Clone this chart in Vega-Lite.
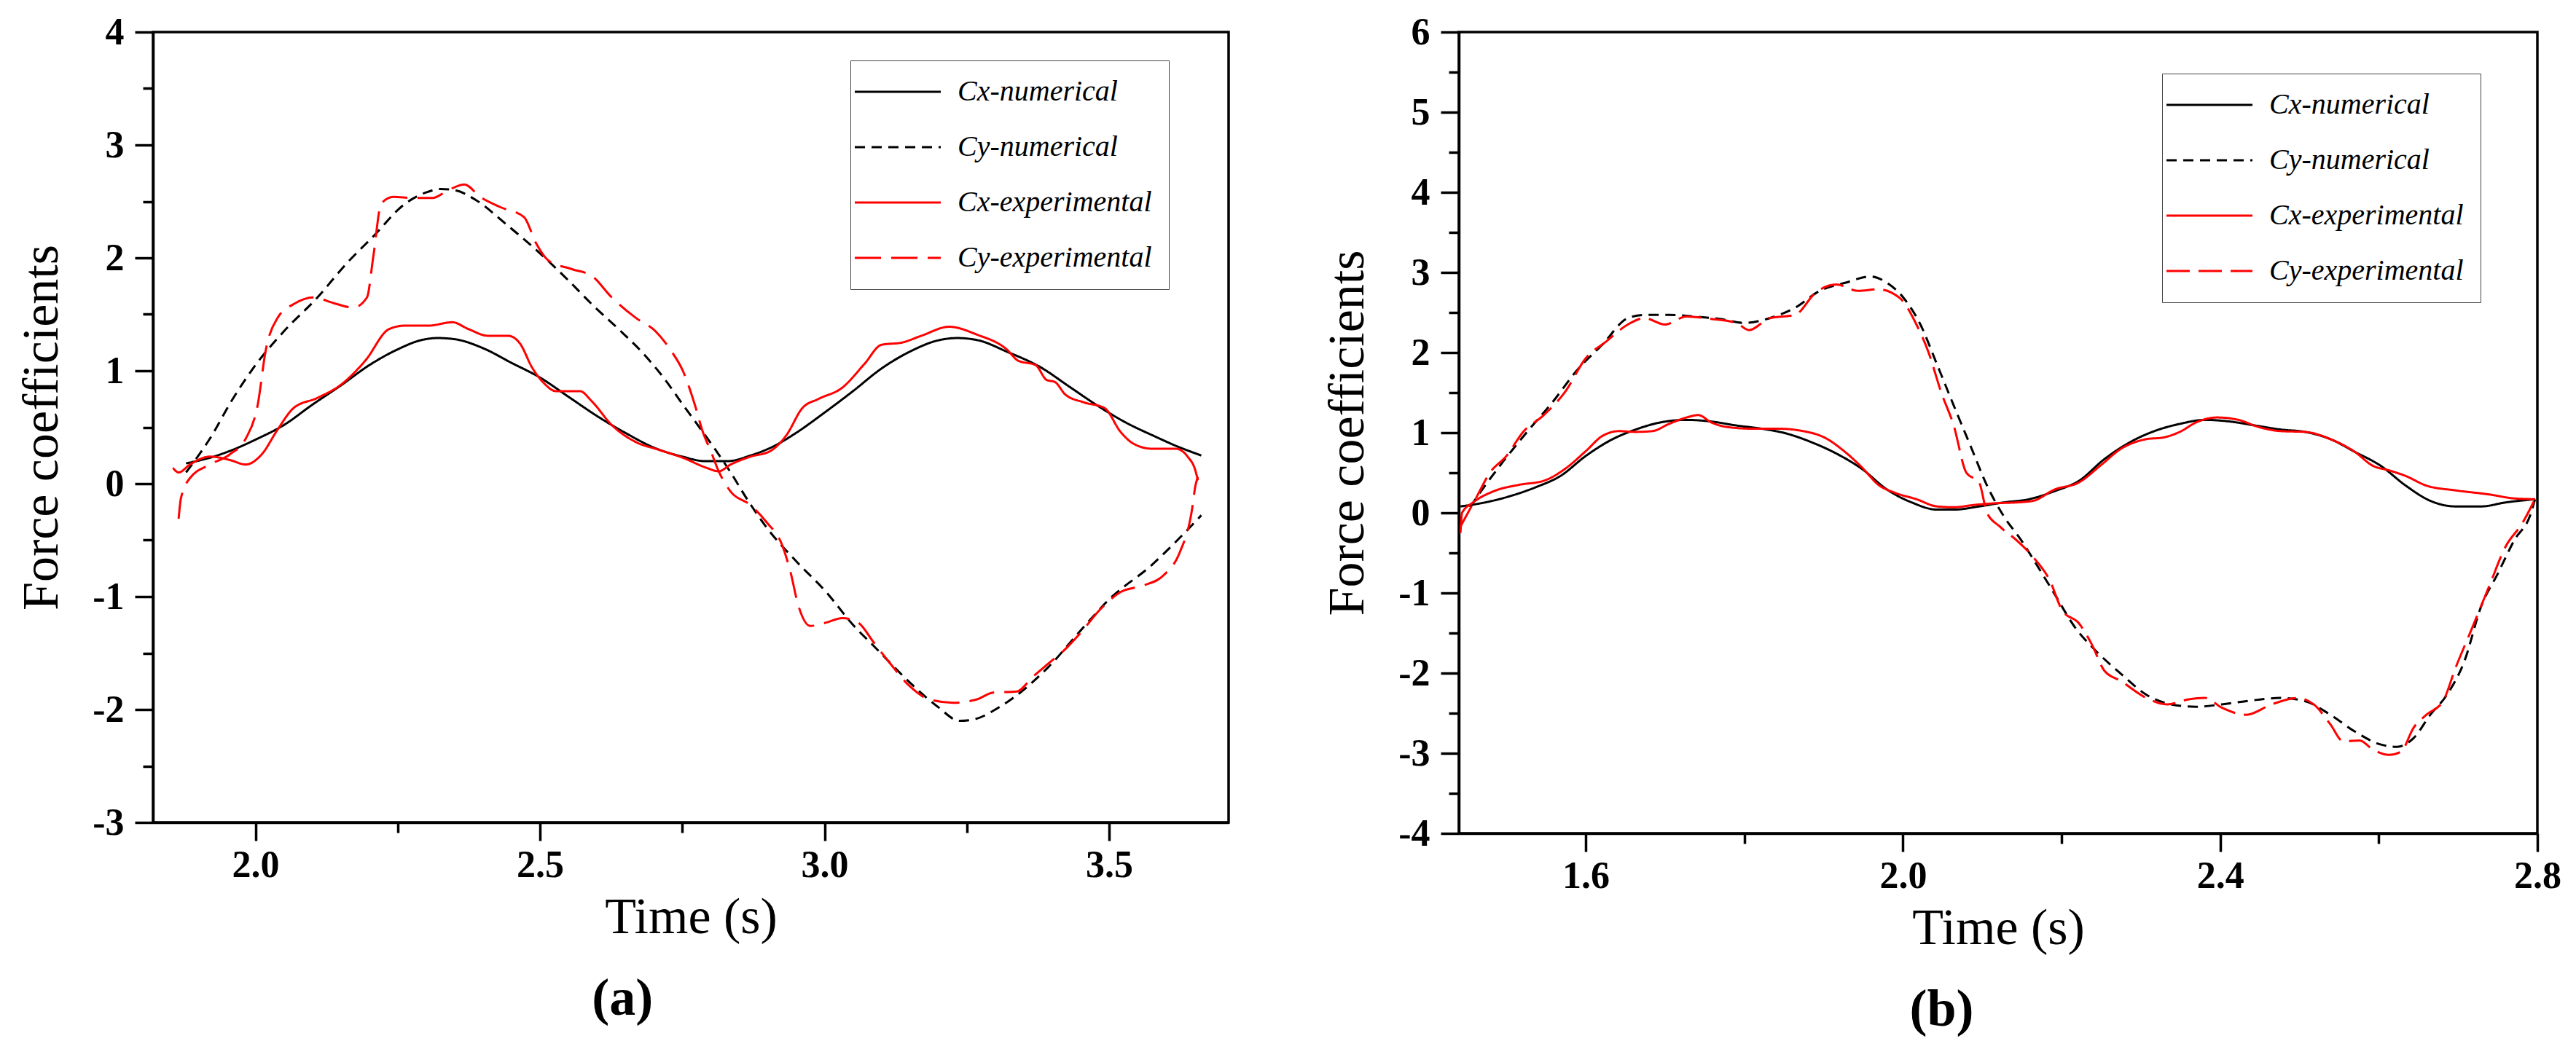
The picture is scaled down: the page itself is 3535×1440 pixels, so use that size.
{
  "$schema": "https://vega.github.io/schema/vega-lite/v6.json",
  "description": "Force coefficients, numerical vs experimental",
  "background": "white",
  "padding": {"left": 20, "top": 16, "right": 22, "bottom": 10},
  "spacing": 124,

  "config": {
    "view": {"stroke": "black", "strokeWidth": 3.5},
    "line": {"interpolate": "monotone"},
    "axis": {
      "grid": false,
      "labelFont": "Liberation Serif", "labelFontSize": 52, "labelFontWeight": "bold", "labelColor": "black",
      "titleFont": "Liberation Serif", "titleFontSize": 70, "titleFontWeight": "normal", "titleColor": "black",
      "domainColor": "black", "domainWidth": 3.5,
      "tickColor": "black", "tickWidth": 3.5, "tickSize": 25,
      "labelFlush": false, "labelOverlap": false
    },
    "axisX": {"labelPadding": 8, "titlePadding": 12},
    "axisY": {"labelPadding": 15, "titlePadding": 33},
    "legend": {
      "title": null,
      "labelFont": "Liberation Serif", "labelFontSize": 40, "labelFontStyle": "italic", "labelColor": "black",
      "labelLimit": 0,
      "strokeColor": "#444", "padding": 23,
      "symbolType": "M-4,0H4", "symbolSize": 870, "symbolOffset": 22, "labelOffset": 62,
      "rowPadding": 36
    },
    "title": {
      "font": "Liberation Serif", "fontSize": 72, "fontWeight": "bold", "color": "black",
      "orient": "bottom", "anchor": "middle", "offset": 42, "frame": "bounds"
    }
  },

  "resolve": {
    "scale": {"color": "independent", "strokeDash": "independent", "strokeWidth": "independent"},
    "legend": {"color": "independent", "strokeDash": "independent", "strokeWidth": "independent"}
  },

  "datasets": {
    "a": [
      {"series": "Cx-numerical", "t": 1.878, "c": 0.18},
      {"series": "Cx-numerical", "t": 1.92, "c": 0.23},
      {"series": "Cx-numerical", "t": 1.96, "c": 0.30},
      {"series": "Cx-numerical", "t": 2.00, "c": 0.39},
      {"series": "Cx-numerical", "t": 2.05, "c": 0.52},
      {"series": "Cx-numerical", "t": 2.10, "c": 0.70},
      {"series": "Cx-numerical", "t": 2.15, "c": 0.87},
      {"series": "Cx-numerical", "t": 2.20, "c": 1.05},
      {"series": "Cx-numerical", "t": 2.25, "c": 1.19},
      {"series": "Cx-numerical", "t": 2.29, "c": 1.27},
      {"series": "Cx-numerical", "t": 2.32, "c": 1.29},
      {"series": "Cx-numerical", "t": 2.35, "c": 1.28},
      {"series": "Cx-numerical", "t": 2.40, "c": 1.20},
      {"series": "Cx-numerical", "t": 2.45, "c": 1.07},
      {"series": "Cx-numerical", "t": 2.50, "c": 0.94},
      {"series": "Cx-numerical", "t": 2.55, "c": 0.77},
      {"series": "Cx-numerical", "t": 2.60, "c": 0.60},
      {"series": "Cx-numerical", "t": 2.65, "c": 0.45},
      {"series": "Cx-numerical", "t": 2.70, "c": 0.32},
      {"series": "Cx-numerical", "t": 2.75, "c": 0.24},
      {"series": "Cx-numerical", "t": 2.79, "c": 0.20},
      {"series": "Cx-numerical", "t": 2.83, "c": 0.20},
      {"series": "Cx-numerical", "t": 2.87, "c": 0.25},
      {"series": "Cx-numerical", "t": 2.91, "c": 0.33},
      {"series": "Cx-numerical", "t": 2.95, "c": 0.45},
      {"series": "Cx-numerical", "t": 3.00, "c": 0.63},
      {"series": "Cx-numerical", "t": 3.05, "c": 0.82},
      {"series": "Cx-numerical", "t": 3.10, "c": 1.02},
      {"series": "Cx-numerical", "t": 3.15, "c": 1.17},
      {"series": "Cx-numerical", "t": 3.20, "c": 1.27},
      {"series": "Cx-numerical", "t": 3.233, "c": 1.29},
      {"series": "Cx-numerical", "t": 3.27, "c": 1.27},
      {"series": "Cx-numerical", "t": 3.32, "c": 1.17},
      {"series": "Cx-numerical", "t": 3.38, "c": 1.03},
      {"series": "Cx-numerical", "t": 3.43, "c": 0.86},
      {"series": "Cx-numerical", "t": 3.48, "c": 0.69},
      {"series": "Cx-numerical", "t": 3.53, "c": 0.54},
      {"series": "Cx-numerical", "t": 3.58, "c": 0.42},
      {"series": "Cx-numerical", "t": 3.62, "c": 0.33},
      {"series": "Cx-numerical", "t": 3.662, "c": 0.25},

      {"series": "Cy-numerical", "t": 1.878, "c": 0.10},
      {"series": "Cy-numerical", "t": 1.92, "c": 0.40},
      {"series": "Cy-numerical", "t": 1.96, "c": 0.75},
      {"series": "Cy-numerical", "t": 2.00, "c": 1.05},
      {"series": "Cy-numerical", "t": 2.05, "c": 1.35},
      {"series": "Cy-numerical", "t": 2.109, "c": 1.65},
      {"series": "Cy-numerical", "t": 2.16, "c": 1.95},
      {"series": "Cy-numerical", "t": 2.207, "c": 2.19},
      {"series": "Cy-numerical", "t": 2.263, "c": 2.48},
      {"series": "Cy-numerical", "t": 2.30, "c": 2.58},
      {"series": "Cy-numerical", "t": 2.325, "c": 2.61},
      {"series": "Cy-numerical", "t": 2.35, "c": 2.60},
      {"series": "Cy-numerical", "t": 2.388, "c": 2.51},
      {"series": "Cy-numerical", "t": 2.44, "c": 2.30},
      {"series": "Cy-numerical", "t": 2.50, "c": 2.04},
      {"series": "Cy-numerical", "t": 2.55, "c": 1.80},
      {"series": "Cy-numerical", "t": 2.591, "c": 1.59},
      {"series": "Cy-numerical", "t": 2.64, "c": 1.36},
      {"series": "Cy-numerical", "t": 2.682, "c": 1.15},
      {"series": "Cy-numerical", "t": 2.72, "c": 0.92},
      {"series": "Cy-numerical", "t": 2.751, "c": 0.70},
      {"series": "Cy-numerical", "t": 2.78, "c": 0.50},
      {"series": "Cy-numerical", "t": 2.807, "c": 0.31},
      {"series": "Cy-numerical", "t": 2.835, "c": 0.10},
      {"series": "Cy-numerical", "t": 2.863, "c": -0.13},
      {"series": "Cy-numerical", "t": 2.90, "c": -0.40},
      {"series": "Cy-numerical", "t": 2.947, "c": -0.67},
      {"series": "Cy-numerical", "t": 3.003, "c": -0.96},
      {"series": "Cy-numerical", "t": 3.05, "c": -1.25},
      {"series": "Cy-numerical", "t": 3.087, "c": -1.44},
      {"series": "Cy-numerical", "t": 3.156, "c": -1.79},
      {"series": "Cy-numerical", "t": 3.20, "c": -1.98},
      {"series": "Cy-numerical", "t": 3.237, "c": -2.10},
      {"series": "Cy-numerical", "t": 3.26, "c": -2.09},
      {"series": "Cy-numerical", "t": 3.31, "c": -1.97},
      {"series": "Cy-numerical", "t": 3.394, "c": -1.62},
      {"series": "Cy-numerical", "t": 3.45, "c": -1.30},
      {"series": "Cy-numerical", "t": 3.501, "c": -1.02},
      {"series": "Cy-numerical", "t": 3.575, "c": -0.72},
      {"series": "Cy-numerical", "t": 3.62, "c": -0.50},
      {"series": "Cy-numerical", "t": 3.662, "c": -0.28},

      {"series": "Cx-experimental", "t": 1.855, "c": 0.14},
      {"series": "Cx-experimental", "t": 1.865, "c": 0.10},
      {"series": "Cx-experimental", "t": 1.885, "c": 0.17},
      {"series": "Cx-experimental", "t": 1.920, "c": 0.24},
      {"series": "Cx-experimental", "t": 1.955, "c": 0.21},
      {"series": "Cx-experimental", "t": 1.983, "c": 0.17},
      {"series": "Cx-experimental", "t": 2.011, "c": 0.26},
      {"series": "Cx-experimental", "t": 2.039, "c": 0.48},
      {"series": "Cx-experimental", "t": 2.067, "c": 0.67},
      {"series": "Cx-experimental", "t": 2.109, "c": 0.76},
      {"series": "Cx-experimental", "t": 2.151, "c": 0.88},
      {"series": "Cx-experimental", "t": 2.193, "c": 1.09},
      {"series": "Cx-experimental", "t": 2.235, "c": 1.37},
      {"series": "Cx-experimental", "t": 2.263, "c": 1.40},
      {"series": "Cx-experimental", "t": 2.304, "c": 1.40},
      {"series": "Cx-experimental", "t": 2.346, "c": 1.43},
      {"series": "Cx-experimental", "t": 2.374, "c": 1.37},
      {"series": "Cx-experimental", "t": 2.409, "c": 1.31},
      {"series": "Cx-experimental", "t": 2.444, "c": 1.31},
      {"series": "Cx-experimental", "t": 2.465, "c": 1.24},
      {"series": "Cx-experimental", "t": 2.486, "c": 1.03},
      {"series": "Cx-experimental", "t": 2.507, "c": 0.89},
      {"series": "Cx-experimental", "t": 2.528, "c": 0.82},
      {"series": "Cx-experimental", "t": 2.570, "c": 0.82},
      {"series": "Cx-experimental", "t": 2.591, "c": 0.73},
      {"series": "Cx-experimental", "t": 2.626, "c": 0.52},
      {"series": "Cx-experimental", "t": 2.668, "c": 0.37},
      {"series": "Cx-experimental", "t": 2.709, "c": 0.30},
      {"series": "Cx-experimental", "t": 2.751, "c": 0.23},
      {"series": "Cx-experimental", "t": 2.793, "c": 0.14},
      {"series": "Cx-experimental", "t": 2.814, "c": 0.11},
      {"series": "Cx-experimental", "t": 2.835, "c": 0.17},
      {"series": "Cx-experimental", "t": 2.870, "c": 0.24},
      {"series": "Cx-experimental", "t": 2.905, "c": 0.29},
      {"series": "Cx-experimental", "t": 2.933, "c": 0.43},
      {"series": "Cx-experimental", "t": 2.961, "c": 0.67},
      {"series": "Cx-experimental", "t": 2.989, "c": 0.75},
      {"series": "Cx-experimental", "t": 3.031, "c": 0.85},
      {"series": "Cx-experimental", "t": 3.070, "c": 1.06},
      {"series": "Cx-experimental", "t": 3.100, "c": 1.23},
      {"series": "Cx-experimental", "t": 3.136, "c": 1.25},
      {"series": "Cx-experimental", "t": 3.170, "c": 1.31},
      {"series": "Cx-experimental", "t": 3.219, "c": 1.39},
      {"series": "Cx-experimental", "t": 3.268, "c": 1.32},
      {"series": "Cx-experimental", "t": 3.320, "c": 1.19},
      {"series": "Cx-experimental", "t": 3.340, "c": 1.09},
      {"series": "Cx-experimental", "t": 3.371, "c": 1.05},
      {"series": "Cx-experimental", "t": 3.390, "c": 0.92},
      {"series": "Cx-experimental", "t": 3.405, "c": 0.90},
      {"series": "Cx-experimental", "t": 3.423, "c": 0.79},
      {"series": "Cx-experimental", "t": 3.456, "c": 0.72},
      {"series": "Cx-experimental", "t": 3.492, "c": 0.67},
      {"series": "Cx-experimental", "t": 3.520, "c": 0.46},
      {"series": "Cx-experimental", "t": 3.541, "c": 0.36},
      {"series": "Cx-experimental", "t": 3.575, "c": 0.31},
      {"series": "Cx-experimental", "t": 3.617, "c": 0.31},
      {"series": "Cx-experimental", "t": 3.638, "c": 0.24},
      {"series": "Cx-experimental", "t": 3.652, "c": 0.11},
      {"series": "Cx-experimental", "t": 3.656, "c": 0.03},

      {"series": "Cy-experimental", "t": 1.865, "c": -0.31},
      {"series": "Cy-experimental", "t": 1.869, "c": -0.13},
      {"series": "Cy-experimental", "t": 1.885, "c": 0.05},
      {"series": "Cy-experimental", "t": 1.920, "c": 0.17},
      {"series": "Cy-experimental", "t": 1.955, "c": 0.26},
      {"series": "Cy-experimental", "t": 1.983, "c": 0.40},
      {"series": "Cy-experimental", "t": 2.004, "c": 0.70},
      {"series": "Cy-experimental", "t": 2.018, "c": 1.18},
      {"series": "Cy-experimental", "t": 2.039, "c": 1.47},
      {"series": "Cy-experimental", "t": 2.067, "c": 1.59},
      {"series": "Cy-experimental", "t": 2.102, "c": 1.65},
      {"series": "Cy-experimental", "t": 2.137, "c": 1.60},
      {"series": "Cy-experimental", "t": 2.172, "c": 1.56},
      {"series": "Cy-experimental", "t": 2.196, "c": 1.65},
      {"series": "Cy-experimental", "t": 2.207, "c": 2.01},
      {"series": "Cy-experimental", "t": 2.221, "c": 2.48},
      {"series": "Cy-experimental", "t": 2.242, "c": 2.54},
      {"series": "Cy-experimental", "t": 2.277, "c": 2.53},
      {"series": "Cy-experimental", "t": 2.311, "c": 2.53},
      {"series": "Cy-experimental", "t": 2.339, "c": 2.60},
      {"series": "Cy-experimental", "t": 2.367, "c": 2.65},
      {"series": "Cy-experimental", "t": 2.395, "c": 2.54},
      {"series": "Cy-experimental", "t": 2.430, "c": 2.45},
      {"series": "Cy-experimental", "t": 2.472, "c": 2.36},
      {"series": "Cy-experimental", "t": 2.493, "c": 2.13},
      {"series": "Cy-experimental", "t": 2.514, "c": 1.98},
      {"series": "Cy-experimental", "t": 2.556, "c": 1.90},
      {"series": "Cy-experimental", "t": 2.591, "c": 1.84},
      {"series": "Cy-experimental", "t": 2.626, "c": 1.65},
      {"series": "Cy-experimental", "t": 2.668, "c": 1.47},
      {"series": "Cy-experimental", "t": 2.703, "c": 1.35},
      {"series": "Cy-experimental", "t": 2.730, "c": 1.18},
      {"series": "Cy-experimental", "t": 2.751, "c": 1.00},
      {"series": "Cy-experimental", "t": 2.772, "c": 0.70},
      {"series": "Cy-experimental", "t": 2.786, "c": 0.46},
      {"series": "Cy-experimental", "t": 2.800, "c": 0.29},
      {"series": "Cy-experimental", "t": 2.814, "c": 0.11},
      {"series": "Cy-experimental", "t": 2.835, "c": -0.07},
      {"series": "Cy-experimental", "t": 2.870, "c": -0.19},
      {"series": "Cy-experimental", "t": 2.898, "c": -0.34},
      {"series": "Cy-experimental", "t": 2.926, "c": -0.55},
      {"series": "Cy-experimental", "t": 2.940, "c": -0.78},
      {"series": "Cy-experimental", "t": 2.954, "c": -1.08},
      {"series": "Cy-experimental", "t": 2.975, "c": -1.26},
      {"series": "Cy-experimental", "t": 3.003, "c": -1.23},
      {"series": "Cy-experimental", "t": 3.031, "c": -1.19},
      {"series": "Cy-experimental", "t": 3.059, "c": -1.23},
      {"series": "Cy-experimental", "t": 3.087, "c": -1.41},
      {"series": "Cy-experimental", "t": 3.115, "c": -1.59},
      {"series": "Cy-experimental", "t": 3.149, "c": -1.79},
      {"series": "Cy-experimental", "t": 3.184, "c": -1.91},
      {"series": "Cy-experimental", "t": 3.226, "c": -1.94},
      {"series": "Cy-experimental", "t": 3.268, "c": -1.91},
      {"series": "Cy-experimental", "t": 3.296, "c": -1.85},
      {"series": "Cy-experimental", "t": 3.338, "c": -1.84},
      {"series": "Cy-experimental", "t": 3.366, "c": -1.71},
      {"series": "Cy-experimental", "t": 3.394, "c": -1.59},
      {"series": "Cy-experimental", "t": 3.422, "c": -1.47},
      {"series": "Cy-experimental", "t": 3.450, "c": -1.32},
      {"series": "Cy-experimental", "t": 3.485, "c": -1.11},
      {"series": "Cy-experimental", "t": 3.520, "c": -0.96},
      {"series": "Cy-experimental", "t": 3.561, "c": -0.90},
      {"series": "Cy-experimental", "t": 3.596, "c": -0.81},
      {"series": "Cy-experimental", "t": 3.624, "c": -0.61},
      {"series": "Cy-experimental", "t": 3.645, "c": -0.25},
      {"series": "Cy-experimental", "t": 3.652, "c": -0.01},
      {"series": "Cy-experimental", "t": 3.656, "c": 0.06}
    ],
    "b": [
      {"series": "Cx-numerical", "t": 1.442, "c": 0.08},
      {"series": "Cx-numerical", "t": 1.473, "c": 0.13},
      {"series": "Cx-numerical", "t": 1.505, "c": 0.21},
      {"series": "Cx-numerical", "t": 1.537, "c": 0.32},
      {"series": "Cx-numerical", "t": 1.568, "c": 0.46},
      {"series": "Cx-numerical", "t": 1.600, "c": 0.71},
      {"series": "Cx-numerical", "t": 1.632, "c": 0.91},
      {"series": "Cx-numerical", "t": 1.663, "c": 1.04},
      {"series": "Cx-numerical", "t": 1.695, "c": 1.13},
      {"series": "Cx-numerical", "t": 1.727, "c": 1.16},
      {"series": "Cx-numerical", "t": 1.758, "c": 1.14},
      {"series": "Cx-numerical", "t": 1.790, "c": 1.09},
      {"series": "Cx-numerical", "t": 1.822, "c": 1.05},
      {"series": "Cx-numerical", "t": 1.853, "c": 0.99},
      {"series": "Cx-numerical", "t": 1.885, "c": 0.88},
      {"series": "Cx-numerical", "t": 1.916, "c": 0.74},
      {"series": "Cx-numerical", "t": 1.948, "c": 0.55},
      {"series": "Cx-numerical", "t": 1.980, "c": 0.29},
      {"series": "Cx-numerical", "t": 2.011, "c": 0.13},
      {"series": "Cx-numerical", "t": 2.043, "c": 0.04},
      {"series": "Cx-numerical", "t": 2.064, "c": 0.04},
      {"series": "Cx-numerical", "t": 2.096, "c": 0.08},
      {"series": "Cx-numerical", "t": 2.127, "c": 0.13},
      {"series": "Cx-numerical", "t": 2.159, "c": 0.17},
      {"series": "Cx-numerical", "t": 2.191, "c": 0.27},
      {"series": "Cx-numerical", "t": 2.222, "c": 0.40},
      {"series": "Cx-numerical", "t": 2.254, "c": 0.67},
      {"series": "Cx-numerical", "t": 2.286, "c": 0.88},
      {"series": "Cx-numerical", "t": 2.317, "c": 1.02},
      {"series": "Cx-numerical", "t": 2.349, "c": 1.11},
      {"series": "Cx-numerical", "t": 2.381, "c": 1.16},
      {"series": "Cx-numerical", "t": 2.412, "c": 1.14},
      {"series": "Cx-numerical", "t": 2.444, "c": 1.09},
      {"series": "Cx-numerical", "t": 2.476, "c": 1.04},
      {"series": "Cx-numerical", "t": 2.507, "c": 1.01},
      {"series": "Cx-numerical", "t": 2.539, "c": 0.92},
      {"series": "Cx-numerical", "t": 2.570, "c": 0.76},
      {"series": "Cx-numerical", "t": 2.602, "c": 0.59},
      {"series": "Cx-numerical", "t": 2.634, "c": 0.34},
      {"series": "Cx-numerical", "t": 2.665, "c": 0.15},
      {"series": "Cx-numerical", "t": 2.697, "c": 0.08},
      {"series": "Cx-numerical", "t": 2.729, "c": 0.08},
      {"series": "Cx-numerical", "t": 2.760, "c": 0.13},
      {"series": "Cx-numerical", "t": 2.797, "c": 0.17},

      {"series": "Cy-numerical", "t": 1.454, "c": 0.07},
      {"series": "Cy-numerical", "t": 1.473, "c": 0.34},
      {"series": "Cy-numerical", "t": 1.495, "c": 0.63},
      {"series": "Cy-numerical", "t": 1.526, "c": 1.01},
      {"series": "Cy-numerical", "t": 1.558, "c": 1.38},
      {"series": "Cy-numerical", "t": 1.589, "c": 1.78},
      {"series": "Cy-numerical", "t": 1.621, "c": 2.10},
      {"series": "Cy-numerical", "t": 1.653, "c": 2.43},
      {"series": "Cy-numerical", "t": 1.674, "c": 2.47},
      {"series": "Cy-numerical", "t": 1.705, "c": 2.47},
      {"series": "Cy-numerical", "t": 1.737, "c": 2.45},
      {"series": "Cy-numerical", "t": 1.769, "c": 2.42},
      {"series": "Cy-numerical", "t": 1.800, "c": 2.37},
      {"series": "Cy-numerical", "t": 1.832, "c": 2.43},
      {"series": "Cy-numerical", "t": 1.864, "c": 2.56},
      {"series": "Cy-numerical", "t": 1.895, "c": 2.77},
      {"series": "Cy-numerical", "t": 1.927, "c": 2.87},
      {"series": "Cy-numerical", "t": 1.959, "c": 2.95},
      {"series": "Cy-numerical", "t": 1.980, "c": 2.87},
      {"series": "Cy-numerical", "t": 2.001, "c": 2.68},
      {"series": "Cy-numerical", "t": 2.022, "c": 2.35},
      {"series": "Cy-numerical", "t": 2.043, "c": 1.85},
      {"series": "Cy-numerical", "t": 2.064, "c": 1.34},
      {"series": "Cy-numerical", "t": 2.085, "c": 0.84},
      {"series": "Cy-numerical", "t": 2.106, "c": 0.34},
      {"series": "Cy-numerical", "t": 2.127, "c": -0.04},
      {"series": "Cy-numerical", "t": 2.149, "c": -0.34},
      {"series": "Cy-numerical", "t": 2.170, "c": -0.67},
      {"series": "Cy-numerical", "t": 2.191, "c": -1.01},
      {"series": "Cy-numerical", "t": 2.217, "c": -1.43},
      {"series": "Cy-numerical", "t": 2.243, "c": -1.72},
      {"series": "Cy-numerical", "t": 2.275, "c": -2.01},
      {"series": "Cy-numerical", "t": 2.307, "c": -2.27},
      {"series": "Cy-numerical", "t": 2.338, "c": -2.39},
      {"series": "Cy-numerical", "t": 2.370, "c": -2.42},
      {"series": "Cy-numerical", "t": 2.402, "c": -2.39},
      {"series": "Cy-numerical", "t": 2.433, "c": -2.35},
      {"series": "Cy-numerical", "t": 2.476, "c": -2.31},
      {"series": "Cy-numerical", "t": 2.507, "c": -2.35},
      {"series": "Cy-numerical", "t": 2.539, "c": -2.52},
      {"series": "Cy-numerical", "t": 2.570, "c": -2.73},
      {"series": "Cy-numerical", "t": 2.602, "c": -2.89},
      {"series": "Cy-numerical", "t": 2.623, "c": -2.92},
      {"series": "Cy-numerical", "t": 2.644, "c": -2.81},
      {"series": "Cy-numerical", "t": 2.665, "c": -2.52},
      {"series": "Cy-numerical", "t": 2.686, "c": -2.27},
      {"series": "Cy-numerical", "t": 2.708, "c": -1.85},
      {"series": "Cy-numerical", "t": 2.729, "c": -1.17},
      {"series": "Cy-numerical", "t": 2.750, "c": -0.76},
      {"series": "Cy-numerical", "t": 2.771, "c": -0.34},
      {"series": "Cy-numerical", "t": 2.792, "c": 0.00},
      {"series": "Cy-numerical", "t": 2.797, "c": 0.17},

      {"series": "Cx-experimental", "t": 1.442, "c": -0.25},
      {"series": "Cx-experimental", "t": 1.444, "c": 0.00},
      {"series": "Cx-experimental", "t": 1.458, "c": 0.13},
      {"series": "Cx-experimental", "t": 1.484, "c": 0.27},
      {"series": "Cx-experimental", "t": 1.516, "c": 0.35},
      {"series": "Cx-experimental", "t": 1.547, "c": 0.40},
      {"series": "Cx-experimental", "t": 1.574, "c": 0.55},
      {"series": "Cx-experimental", "t": 1.600, "c": 0.77},
      {"series": "Cx-experimental", "t": 1.621, "c": 0.96},
      {"series": "Cx-experimental", "t": 1.642, "c": 1.02},
      {"series": "Cx-experimental", "t": 1.663, "c": 1.01},
      {"series": "Cx-experimental", "t": 1.684, "c": 1.02},
      {"series": "Cx-experimental", "t": 1.705, "c": 1.11},
      {"series": "Cx-experimental", "t": 1.727, "c": 1.19},
      {"series": "Cx-experimental", "t": 1.742, "c": 1.22},
      {"series": "Cx-experimental", "t": 1.758, "c": 1.13},
      {"series": "Cx-experimental", "t": 1.779, "c": 1.07},
      {"series": "Cx-experimental", "t": 1.811, "c": 1.05},
      {"series": "Cx-experimental", "t": 1.843, "c": 1.05},
      {"series": "Cx-experimental", "t": 1.874, "c": 1.02},
      {"series": "Cx-experimental", "t": 1.901, "c": 0.94},
      {"series": "Cx-experimental", "t": 1.927, "c": 0.76},
      {"series": "Cx-experimental", "t": 1.948, "c": 0.57},
      {"series": "Cx-experimental", "t": 1.969, "c": 0.35},
      {"series": "Cx-experimental", "t": 1.990, "c": 0.25},
      {"series": "Cx-experimental", "t": 2.017, "c": 0.17},
      {"series": "Cx-experimental", "t": 2.043, "c": 0.08},
      {"series": "Cx-experimental", "t": 2.064, "c": 0.07},
      {"series": "Cx-experimental", "t": 2.091, "c": 0.10},
      {"series": "Cx-experimental", "t": 2.117, "c": 0.12},
      {"series": "Cx-experimental", "t": 2.143, "c": 0.13},
      {"series": "Cx-experimental", "t": 2.164, "c": 0.15},
      {"series": "Cx-experimental", "t": 2.191, "c": 0.29},
      {"series": "Cx-experimental", "t": 2.222, "c": 0.38},
      {"series": "Cx-experimental", "t": 2.249, "c": 0.59},
      {"series": "Cx-experimental", "t": 2.275, "c": 0.80},
      {"series": "Cx-experimental", "t": 2.307, "c": 0.92},
      {"series": "Cx-experimental", "t": 2.328, "c": 0.94},
      {"series": "Cx-experimental", "t": 2.349, "c": 1.01},
      {"series": "Cx-experimental", "t": 2.370, "c": 1.13},
      {"series": "Cx-experimental", "t": 2.396, "c": 1.19},
      {"series": "Cx-experimental", "t": 2.423, "c": 1.16},
      {"series": "Cx-experimental", "t": 2.449, "c": 1.07},
      {"series": "Cx-experimental", "t": 2.476, "c": 1.02},
      {"series": "Cx-experimental", "t": 2.507, "c": 1.01},
      {"series": "Cx-experimental", "t": 2.539, "c": 0.92},
      {"series": "Cx-experimental", "t": 2.570, "c": 0.76},
      {"series": "Cx-experimental", "t": 2.592, "c": 0.59},
      {"series": "Cx-experimental", "t": 2.613, "c": 0.53},
      {"series": "Cx-experimental", "t": 2.634, "c": 0.46},
      {"series": "Cx-experimental", "t": 2.660, "c": 0.34},
      {"series": "Cx-experimental", "t": 2.697, "c": 0.28},
      {"series": "Cx-experimental", "t": 2.739, "c": 0.23},
      {"series": "Cx-experimental", "t": 2.771, "c": 0.18},
      {"series": "Cx-experimental", "t": 2.797, "c": 0.17},

      {"series": "Cy-experimental", "t": 1.442, "c": -0.17},
      {"series": "Cy-experimental", "t": 1.463, "c": 0.21},
      {"series": "Cy-experimental", "t": 1.479, "c": 0.50},
      {"series": "Cy-experimental", "t": 1.500, "c": 0.71},
      {"series": "Cy-experimental", "t": 1.521, "c": 1.01},
      {"series": "Cy-experimental", "t": 1.547, "c": 1.22},
      {"series": "Cy-experimental", "t": 1.574, "c": 1.51},
      {"series": "Cy-experimental", "t": 1.600, "c": 1.93},
      {"series": "Cy-experimental", "t": 1.626, "c": 2.14},
      {"series": "Cy-experimental", "t": 1.653, "c": 2.35},
      {"series": "Cy-experimental", "t": 1.674, "c": 2.43},
      {"series": "Cy-experimental", "t": 1.700, "c": 2.35},
      {"series": "Cy-experimental", "t": 1.727, "c": 2.45},
      {"series": "Cy-experimental", "t": 1.758, "c": 2.42},
      {"series": "Cy-experimental", "t": 1.790, "c": 2.37},
      {"series": "Cy-experimental", "t": 1.806, "c": 2.28},
      {"series": "Cy-experimental", "t": 1.832, "c": 2.43},
      {"series": "Cy-experimental", "t": 1.864, "c": 2.47},
      {"series": "Cy-experimental", "t": 1.890, "c": 2.75},
      {"series": "Cy-experimental", "t": 1.916, "c": 2.85},
      {"series": "Cy-experimental", "t": 1.943, "c": 2.77},
      {"series": "Cy-experimental", "t": 1.969, "c": 2.79},
      {"series": "Cy-experimental", "t": 1.996, "c": 2.68},
      {"series": "Cy-experimental", "t": 2.017, "c": 2.35},
      {"series": "Cy-experimental", "t": 2.032, "c": 2.01},
      {"series": "Cy-experimental", "t": 2.048, "c": 1.51},
      {"series": "Cy-experimental", "t": 2.064, "c": 1.09},
      {"series": "Cy-experimental", "t": 2.080, "c": 0.50},
      {"series": "Cy-experimental", "t": 2.096, "c": 0.38},
      {"series": "Cy-experimental", "t": 2.106, "c": 0.00},
      {"series": "Cy-experimental", "t": 2.122, "c": -0.17},
      {"series": "Cy-experimental", "t": 2.143, "c": -0.34},
      {"series": "Cy-experimental", "t": 2.164, "c": -0.55},
      {"series": "Cy-experimental", "t": 2.185, "c": -0.84},
      {"series": "Cy-experimental", "t": 2.201, "c": -1.22},
      {"series": "Cy-experimental", "t": 2.222, "c": -1.38},
      {"series": "Cy-experimental", "t": 2.238, "c": -1.64},
      {"series": "Cy-experimental", "t": 2.254, "c": -1.97},
      {"series": "Cy-experimental", "t": 2.275, "c": -2.10},
      {"series": "Cy-experimental", "t": 2.307, "c": -2.31},
      {"series": "Cy-experimental", "t": 2.333, "c": -2.39},
      {"series": "Cy-experimental", "t": 2.359, "c": -2.33},
      {"series": "Cy-experimental", "t": 2.381, "c": -2.31},
      {"series": "Cy-experimental", "t": 2.402, "c": -2.43},
      {"series": "Cy-experimental", "t": 2.433, "c": -2.52},
      {"series": "Cy-experimental", "t": 2.465, "c": -2.39},
      {"series": "Cy-experimental", "t": 2.497, "c": -2.31},
      {"series": "Cy-experimental", "t": 2.518, "c": -2.39},
      {"series": "Cy-experimental", "t": 2.539, "c": -2.64},
      {"series": "Cy-experimental", "t": 2.555, "c": -2.85},
      {"series": "Cy-experimental", "t": 2.576, "c": -2.84},
      {"series": "Cy-experimental", "t": 2.592, "c": -2.95},
      {"series": "Cy-experimental", "t": 2.613, "c": -3.02},
      {"series": "Cy-experimental", "t": 2.628, "c": -2.98},
      {"series": "Cy-experimental", "t": 2.644, "c": -2.68},
      {"series": "Cy-experimental", "t": 2.660, "c": -2.52},
      {"series": "Cy-experimental", "t": 2.681, "c": -2.35},
      {"series": "Cy-experimental", "t": 2.697, "c": -1.93},
      {"series": "Cy-experimental", "t": 2.718, "c": -1.43},
      {"series": "Cy-experimental", "t": 2.739, "c": -0.92},
      {"series": "Cy-experimental", "t": 2.760, "c": -0.42},
      {"series": "Cy-experimental", "t": 2.781, "c": -0.13},
      {"series": "Cy-experimental", "t": 2.797, "c": 0.17}
    ]
  },

  "hconcat": [
    {
      "width": 1476,
      "height": 1085,
      "data": {"name": "a"},
      "title": {"text": "(a)"},
      "mark": {"type": "line"},
      "encoding": {
        "x": {
          "field": "t", "type": "quantitative", "title": "Time (s)",
          "scale": {"domain": [1.82, 3.71], "nice": false, "zero": false},
          "axis": {
            "values": [2.0, 2.25, 2.5, 2.75, 3.0, 3.25, 3.5],
            "labelExpr": "datum.value % 0.5 === 0 ? format(datum.value, '.1f') : ''",
            "tickSize": {"condition": {"test": "datum.value % 0.5 !== 0", "value": 14}, "value": 25}
          }
        },
        "y": {
          "field": "c", "type": "quantitative", "title": "Force coefficients",
          "scale": {"domain": [-3, 4], "nice": false, "zero": false},
          "axis": {
            "values": [-3, -2.5, -2, -1.5, -1, -0.5, 0, 0.5, 1, 1.5, 2, 2.5, 3, 3.5, 4],
            "labelExpr": "datum.value % 1 === 0 ? '' + datum.value : ''",
            "tickSize": {"condition": {"test": "datum.value % 1 !== 0", "value": 14}, "value": 25}
          }
        },
        "color": {
          "field": "series", "type": "nominal",
          "scale": {"domain": ["Cx-numerical", "Cy-numerical", "Cx-experimental", "Cy-experimental"], "range": ["black", "black", "red", "red"]},
          "legend": {"orient": "none", "legendX": 957, "legendY": 39}
        },
        "strokeDash": {
          "field": "series", "type": "nominal",
          "scale": {"domain": ["Cx-numerical", "Cy-numerical", "Cx-experimental", "Cy-experimental"], "range": [[1, 0], [14, 9], [1, 0], [36, 14]]}
        },
        "strokeWidth": {
          "field": "series", "type": "nominal",
          "scale": {"domain": ["Cx-numerical", "Cy-numerical", "Cx-experimental", "Cy-experimental"], "range": [3, 3, 6, 6]}
        }
      }
    },
    {
      "width": 1480,
      "height": 1100,
      "data": {"name": "b"},
      "title": {"text": "(b)"},
      "mark": {"type": "line"},
      "encoding": {
        "x": {
          "field": "t", "type": "quantitative", "title": "Time (s)",
          "scale": {"domain": [1.44, 2.8], "nice": false, "zero": false},
          "axis": {
            "values": [1.6, 1.8, 2.0, 2.2, 2.4, 2.6, 2.8],
            "labelExpr": "round(datum.value * 10) % 4 === 0 ? format(datum.value, '.1f') : ''",
            "tickSize": {"condition": {"test": "round(datum.value * 10) % 4 !== 0", "value": 14}, "value": 25}
          }
        },
        "y": {
          "field": "c", "type": "quantitative", "title": "Force coefficients",
          "scale": {"domain": [-4, 6], "nice": false, "zero": false},
          "axis": {
            "values": [-4, -3.5, -3, -2.5, -2, -1.5, -1, -0.5, 0, 0.5, 1, 1.5, 2, 2.5, 3, 3.5, 4, 4.5, 5, 5.5, 6],
            "labelExpr": "datum.value % 1 === 0 ? '' + datum.value : ''",
            "tickSize": {"condition": {"test": "datum.value % 1 !== 0", "value": 14}, "value": 25}
          }
        },
        "color": {
          "field": "series", "type": "nominal",
          "scale": {"domain": ["Cx-numerical", "Cy-numerical", "Cx-experimental", "Cy-experimental"], "range": ["black", "black", "red", "red"]},
          "legend": {"orient": "none", "legendX": 965, "legendY": 57}
        },
        "strokeDash": {
          "field": "series", "type": "nominal",
          "scale": {"domain": ["Cx-numerical", "Cy-numerical", "Cx-experimental", "Cy-experimental"], "range": [[1, 0], [14, 9], [1, 0], [32, 12]]}
        },
        "strokeWidth": {
          "field": "series", "type": "nominal",
          "scale": {"domain": ["Cx-numerical", "Cy-numerical", "Cx-experimental", "Cy-experimental"], "range": [3, 3, 5, 5]}
        }
      }
    }
  ]
}
